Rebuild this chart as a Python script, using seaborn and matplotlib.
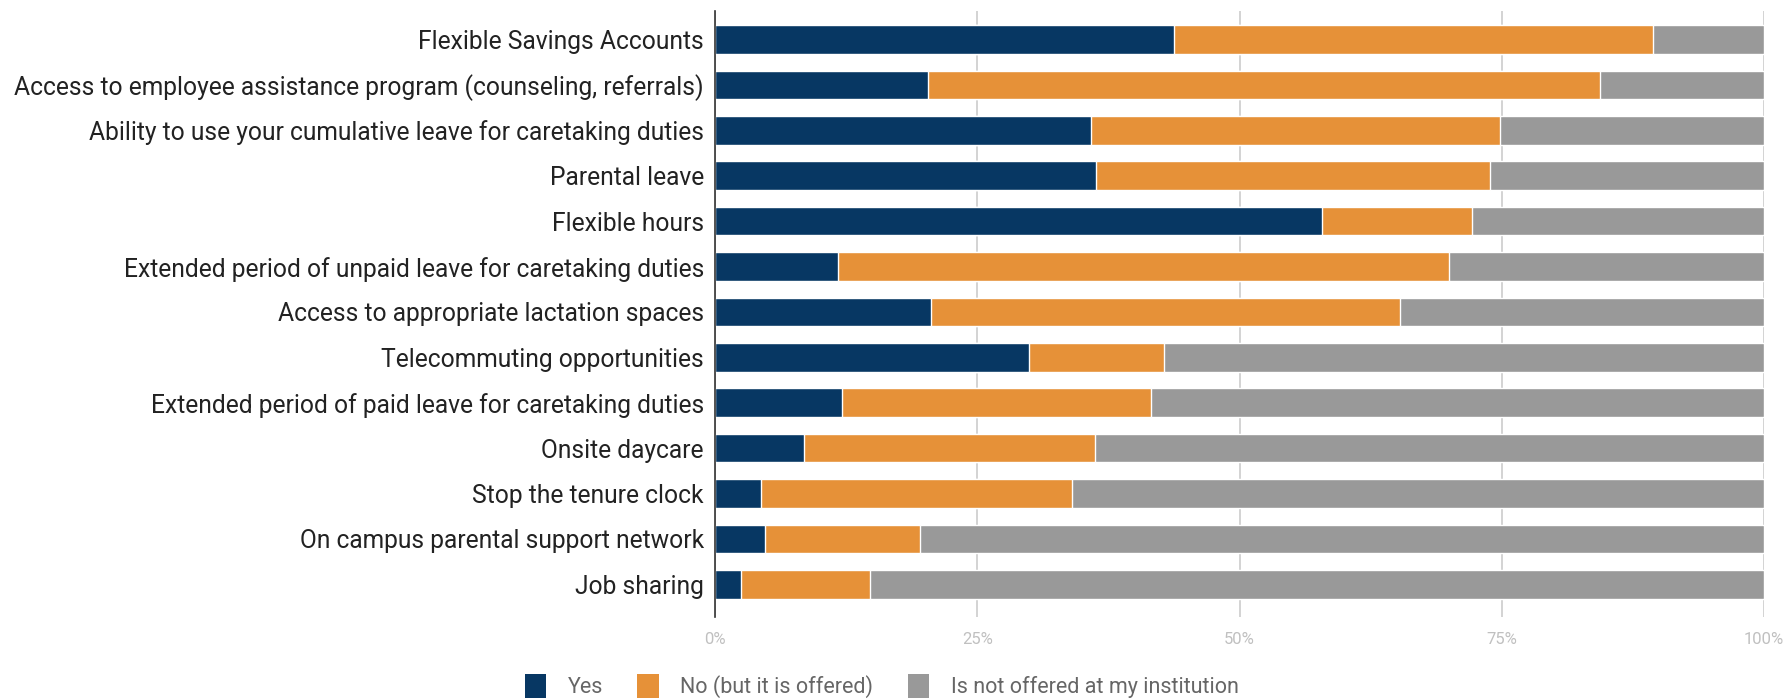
import matplotlib
matplotlib.use("Agg")
import matplotlib.pyplot as plt
from matplotlib.patches import Patch
from matplotlib.ticker import FuncFormatter
import seaborn as sns
import pandas as pd
import numpy as np

benefits = [
    "Flexible Savings Accounts",
    "Access to employee assistance program (counseling, referrals)",
    "Ability to use your cumulative leave for caretaking duties",
    "Parental leave",
    "Flexible hours",
    "Extended period of unpaid leave for caretaking duties",
    "Access to appropriate lactation spaces",
    "Telecommuting opportunities",
    "Extended period of paid leave for caretaking duties",
    "Onsite daycare",
    "Stop the tenure clock",
    "On campus parental support network",
    "Job sharing",
]
yes = [43.8, 20.3, 35.8, 36.3, 57.9, 11.7, 20.6, 29.9, 12.1, 8.5, 4.4, 4.8, 2.5]
no_offered = [45.6, 64.1, 39.0, 37.6, 14.3, 58.3, 44.7, 12.9, 29.5, 27.7, 29.6, 14.7, 12.3]
not_offered = [10.6, 15.6, 25.2, 26.1, 27.8, 30.0, 34.7, 57.2, 58.4, 63.8, 66.0, 80.5, 85.2]

series_names = ["Yes", "No (but it is offered)", "Is not offered at my institution"]
series_colors = ["#073763", "#e69138", "#999999"]
x_ticks = [0, 25, 50, 75, 100]

sns.set_theme(style="white")
plt.rcParams["font.family"] = ["Roboto", "DejaVu Sans"]

df = pd.DataFrame({
    "benefit": benefits,
    "yes": yes,
    "no": no_offered,
    "not": not_offered,
})
# cumulative layers so each segment starts where the previous one ends
df["c_yes"] = df["yes"]
df["c_no"] = df["yes"] + df["no"]
df["c_not"] = df["yes"] + df["no"] + df["not"]

fig = plt.figure(figsize=(17.92, 7.0), dpi=100)
ax = fig.add_axes([715 / 1792, 1 - 617 / 700, (1764 - 715) / 1792, (617 - 11) / 700])

for col, color in zip(["c_not", "c_no", "c_yes"], series_colors[::-1]):
    sns.barplot(data=df, x=col, y="benefit", orient="h", color=color,
                width=0.63, saturation=1, ax=ax, zorder=3)

ax.set_xlim(0, 100)
ax.set_ylim(12.72, -0.63)
ax.set_xticks(x_ticks)
ax.xaxis.set_major_formatter(FuncFormatter(lambda v, p: f"{v:.0f}%"))
ax.grid(axis="x", color="#cccccc", linewidth=1.2, zorder=0)
ax.grid(axis="y", visible=False)
ax.set_xlabel("")
ax.set_ylabel("")

for side in ["top", "right", "bottom"]:
    ax.spines[side].set_visible(False)
ax.spines["left"].set_color("#333333")
ax.spines["left"].set_linewidth(1.2)
ax.spines["left"].set_zorder(5)

ax.tick_params(axis="y", length=0, pad=8, labelsize=17.7, labelcolor="#222222")
ax.tick_params(axis="x", length=0, pad=11, labelsize=12, labelcolor="#c0c0c0")

handles = [Patch(facecolor=c, edgecolor="none") for c in series_colors]
fig.legend(handles, series_names, loc="center", bbox_to_anchor=(0.492, 1 - 686 / 700),
           ncol=3, frameon=False, fontsize=15.5, labelcolor="#666666",
           handlelength=1.0, handleheight=1.35, handletextpad=1.0, columnspacing=1.6)

fig.savefig("out.png", dpi=100, facecolor="white")
